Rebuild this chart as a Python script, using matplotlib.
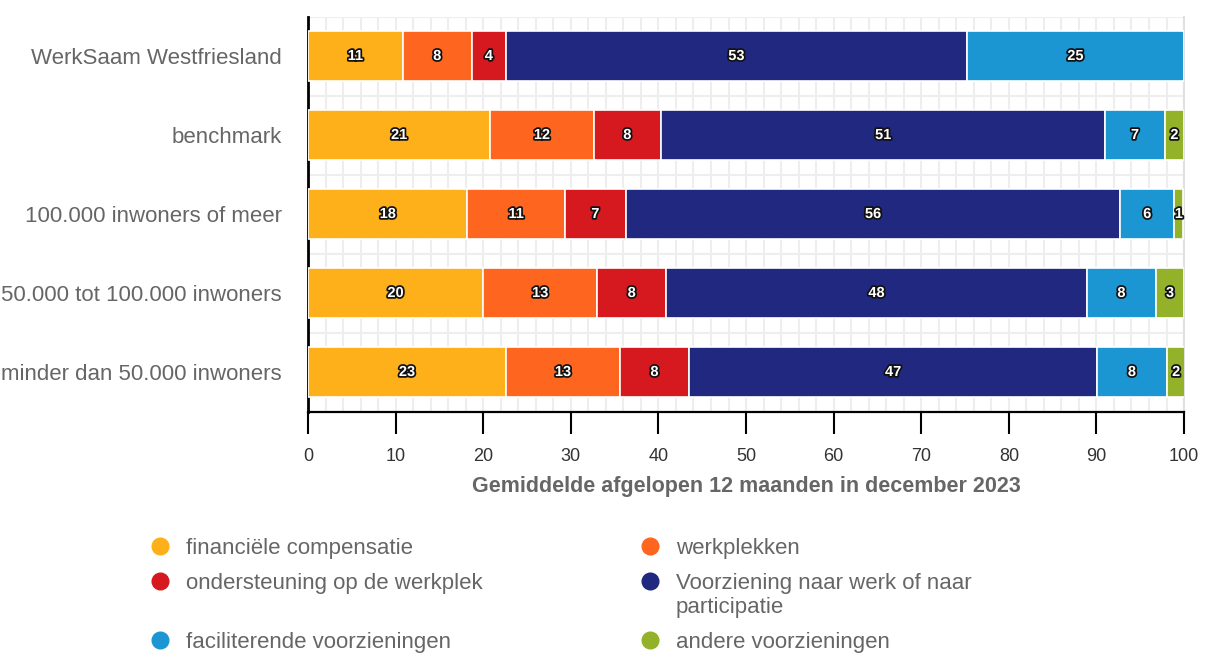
import matplotlib
matplotlib.use("Agg")
import matplotlib.pyplot as plt
import matplotlib.patheffects as pe
from matplotlib.offsetbox import HPacker
from matplotlib.lines import Line2D
import numpy as np
import textwrap

categories = ["WerkSaam Westfriesland", "benchmark", "100.000 inwoners of meer",
              "50.000 tot 100.000 inwoners", "minder dan 50.000 inwoners"]
series_names = ["financiële compensatie", "werkplekken", "ondersteuning op de werkplek",
                "Voorziening naar werk of naar participatie", "faciliterende voorzieningen",
                "andere voorzieningen"]
fin = [10.8, 20.8, 18.2, 20.0, 22.6]
werkplekken = [7.9, 11.8, 11.1, 13.0, 13.0]
ondersteuning = [3.9, 7.7, 7.0, 7.9, 7.9]
voorziening = [52.6, 50.7, 56.4, 48.0, 46.6]
faciliterend = [24.8, 6.8, 6.2, 7.9, 7.9]
andere = [0.0, 2.2, 1.0, 3.2, 2.2]
colors = ["#fdb019", "#fe6620", "#d6181f", "#20287f", "#1b96d3", "#93b22a"]
xlabel = "Gemiddelde afgelopen 12 maanden in december 2023"

series = [fin, werkplekken, ondersteuning, voorziening, faciliterend, andere]

plt.rcParams['font.family'] = ['Liberation Sans', 'DejaVu Sans']
fig = plt.figure(figsize=(12.06, 6.53), dpi=100)
ax = fig.add_axes([0.2554, 0.3698, 0.9818 - 0.2554, 0.9747 - 0.3698])

y = np.arange(len(categories))
left = np.zeros(len(categories))
for name, vals, c in zip(series_names, series, colors):
    vals = np.array(vals)
    ax.barh(y, vals, left=left, height=0.63, color=c, edgecolor='white',
            linewidth=1.2, label=name, zorder=3)
    for yi, v, l in zip(y, vals, left):
        if v > 0:
            ax.text(l + v / 2, yi, f"{v:.0f}", ha='center', va='center', color='white',
                    fontsize=10.5, fontweight='bold', zorder=5,
                    path_effects=[pe.withStroke(linewidth=2.5, foreground='#111111')])
    left = left + vals

ax.set_xlim(0, 100)
ax.set_ylim(len(categories) - 0.5, -0.5)
ax.set_yticks(y)
ax.set_yticklabels(categories, fontsize=16, color='#666666')
ax.tick_params(axis='y', length=0, pad=19)
ax.set_xticks(np.arange(0, 101, 10))
ax.set_xticks(np.arange(0, 101, 2), minor=True)
ax.tick_params(axis='x', which='major', length=16, width=1.5, color='black', pad=10,
               labelsize=13, labelcolor='#333333')
ax.tick_params(axis='x', which='minor', length=0)
ax.set_yticks(np.arange(-0.5, len(categories), 1), minor=True)
ax.tick_params(axis='y', which='minor', length=0)
ax.grid(which='minor', axis='both', color='#eeeeee', linewidth=1.5, zorder=0)
ax.grid(which='major', axis='x', color='#eeeeee', linewidth=1.5, zorder=0)
ax.grid(which='major', axis='y', visible=False)
ax.set_axisbelow(True)

ax.spines['top'].set_visible(False)
ax.spines['right'].set_color('#e0e0e0')
ax.spines['right'].set_linewidth(1.5)
ax.spines['left'].set_linewidth(2)
ax.spines['left'].set_color('black')
ax.spines['bottom'].set_linewidth(1.6)
ax.spines['bottom'].set_color('black')

ax.set_xlabel(xlabel, fontsize=15.5, fontweight='bold', color='#666666', labelpad=8)

# legend: two columns, row-wise order
order = [0, 2, 4, 1, 3, 5]
labels_disp = ["\n".join(textwrap.wrap(series_names[i], 30)) for i in order]
labels_disp[1] = labels_disp[1] + "\n "
leg_handles = [Line2D([], [], marker='o', linestyle='none', markersize=12,
                      markerfacecolor=colors[i], markeredgecolor=colors[i]) for i in order]
leg = fig.legend(leg_handles, labels_disp, ncol=2, loc='upper left',
                 bbox_to_anchor=(0.1235, 0.176), frameon=False, fontsize=16,
                 labelcolor='#666666', handlelength=1.0, handletextpad=0.68,
                 columnspacing=7.0, labelspacing=0.62, borderpad=0, borderaxespad=0)
for hp in leg.findobj(HPacker):
    hp.align = 'top'

fig.savefig("out.png", dpi=100)
